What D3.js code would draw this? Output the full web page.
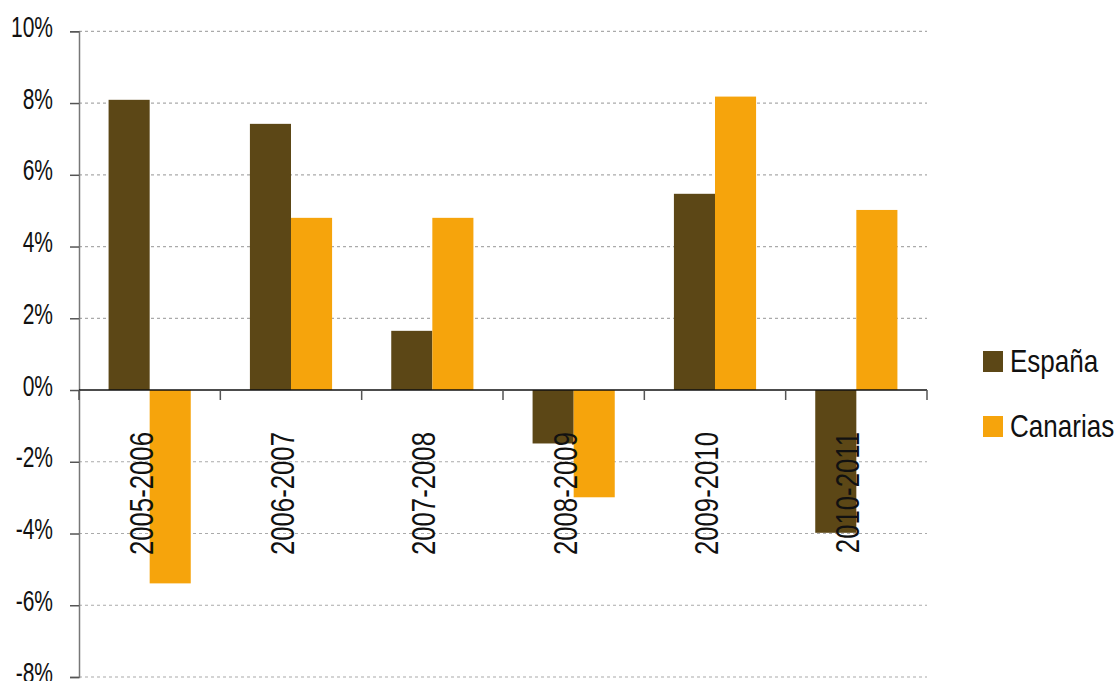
<!DOCTYPE html>
<html>
<head>
<meta charset="utf-8">
<script src="https://cdn.jsdelivr.net/npm/d3@7"></script>
<style>
  html, body { margin: 0; padding: 0; background: #fff; }
  svg { display: block; }
  text { font-family: "Liberation Sans", Arial, sans-serif; fill: #111; }
</style>
</head>
<body>
<svg id="chart" width="1120" height="681"></svg>
<script>
const categories = ["2005-2006", "2006-2007", "2007-2008", "2008-2009", "2009-2010", "2010-2011"];
const seriesNames = ["España", "Canarias"];
const espana = [8.09, 7.42, 1.65, -1.49, 5.47, -3.98];
const canarias = [-5.39, 4.80, 4.80, -2.99, 8.18, 5.02];
const yTicks = [-8, -6, -4, -2, 0, 2, 4, 6, 8, 10];
const colors = ["#5C4716", "#F6A40C"];

const svg = d3.select("#chart");
const mLeft = 79, mRight = 927, mTop = 31.3, mBottom = 677;

const x = d3.scaleBand().domain(categories).range([mLeft, mRight]).paddingInner(0).paddingOuter(0);
const x1 = d3.scaleBand().domain(seriesNames).range([0, x.bandwidth()]).paddingInner(0).paddingOuter(0.72);
const y = d3.scaleLinear().domain([-8, 10]).range([mBottom, mTop]);

// gridlines
svg.append("g").selectAll("line").data(yTicks.filter(d => d !== 0)).join("line")
  .attr("x1", mLeft).attr("x2", mRight)
  .attr("y1", d => y(d)).attr("y2", d => y(d))
  .attr("stroke", "#aaa").attr("stroke-width", 1.2).attr("stroke-dasharray", "3,3");

// bars
const data = categories.map((c, i) => ({ cat: c, vals: [espana[i], canarias[i]] }));
const groups = svg.append("g").selectAll("g").data(data).join("g")
  .attr("transform", d => `translate(${x(d.cat)},0)`);
groups.selectAll("rect").data(d => d.vals.map((v, j) => ({ s: seriesNames[j], v, j }))).join("rect")
  .attr("x", d => x1(d.s))
  .attr("width", x1.bandwidth())
  .attr("y", d => y(Math.max(0, d.v)))
  .attr("height", d => Math.abs(y(d.v) - y(0)))
  .attr("fill", d => colors[d.j]);

// y axis
const yAxis = d3.axisLeft(y).tickValues(yTicks).tickSize(9).tickFormat(d => d + "%");
const yg = svg.append("g").attr("transform", `translate(${mLeft},0)`).call(yAxis);
yg.select(".domain").attr("stroke", "#777").attr("stroke-width", 1.5);
yg.selectAll(".tick line").attr("stroke", "#555").attr("stroke-width", 1.5);
yg.selectAll(".tick text")
  .attr("x", 0).attr("dy", null).attr("y", 5)
  .attr("transform", "translate(-26,0) scale(0.7,1)")
  .attr("text-anchor", "end")
  .style("font-family", "'Liberation Sans', Arial, sans-serif")
  .style("font-size", "30px").attr("fill", "#111");

// zero line
svg.append("line").attr("x1", mLeft).attr("x2", mRight)
  .attr("y1", y(0)).attr("y2", y(0)).attr("stroke", "#111").attr("stroke-width", 1.5);

// x ticks at band edges
const edges = categories.map(c => x(c)).concat([mRight]);
svg.append("g").selectAll("line").data(edges).join("line")
  .attr("x1", d => d).attr("x2", d => d)
  .attr("y1", y(0)).attr("y2", y(0) + 10)
  .attr("stroke", "#555").attr("stroke-width", 1.5);

// category labels (rotated)
svg.append("g").selectAll("text").data(categories).join("text")
  .attr("transform", c => `translate(${x(c) + x.bandwidth() / 2 + 3},${y(0) + 42}) rotate(-90) scale(0.78,1)`)
  .attr("text-anchor", "end")
  .style("font-size", "33px")
  .text(c => c);

// legend
const lg = svg.append("g").selectAll("g").data(seriesNames).join("g")
  .attr("transform", (d, i) => `translate(983,${351 + i * 65})`);
lg.append("rect").attr("width", 20).attr("height", 21).attr("fill", (d, i) => colors[i]);
lg.append("text").attr("transform", "translate(27,21) scale(0.84,1)").style("font-size", "31px").text(d => d);
</script>
</body>
</html>
